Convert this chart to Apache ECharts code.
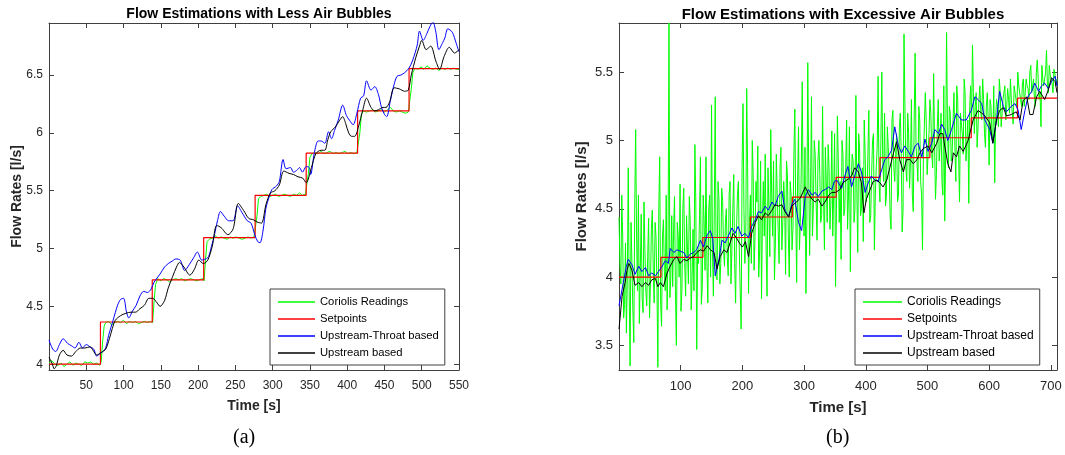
<!DOCTYPE html>
<html>
<head>
<meta charset="utf-8">
<script src="https://cdn.jsdelivr.net/npm/echarts@6/dist/echarts.min.js"></script>
<style>
html,body{margin:0;padding:0;background:#fff;}
#chart{width:1065px;height:455px;}
</style>
</head>
<body>
<div id="chart"></div>
<script>
// ---------- Panel (a): less air bubbles ----------
const leftTitle = 'Flow Estimations with Less Air Bubbles';
const leftTimeTicks = [50,100,150,200,250,300,350,400,450,500,550];
const leftFlowTicks = [4,4.5,5,5.5,6,6.5];

const leftSetTime = [0,69,138.5,207.5,276.5,345,414,483,550];
const leftSetFlow = [4.0,4.365,4.73,5.095,5.46,5.825,6.19,6.555,6.555];

const leftCorTime = [0,4,8,12,16,20,24,28,32,36,40,44,48,52,56,60,64,68,70,72,74,
  76,80,84,88,92,96,100,104,108,112,116,120,124,128,132,136,139,141,143,
  146,150,154,158,162,166,170,174,178,182,186,190,194,198,202,206,208,210,212,
  215,219,223,227,231,235,239,243,247,251,255,259,263,267,271,275,277,279,281,
  284,288,292,296,300,304,308,312,316,320,324,328,332,336,340,344,346,348,350,
  353,357,361,365,369,373,377,381,385,389,393,397,401,405,409,413,415,417,419,
  422,426,430,434,438,442,446,450,454,458,462,466,470,474,478,482,484,486,488,
  491,495,499,503,507,511,515,519,523,527,531,535,539,543,547,550];
const leftCorFlow = [4.01,4.03,4.0,3.99,4.01,3.98,4.0,4.02,3.99,4.01,4.0,3.99,4.02,4.01,4.02,4.0,4.01,3.99,4.02,4.2,4.33,
  4.36,4.37,4.34,4.36,4.37,4.36,4.38,4.35,4.37,4.36,4.37,4.35,4.36,4.37,4.36,4.37,4.36,4.55,4.69,
  4.74,4.72,4.74,4.73,4.71,4.73,4.74,4.73,4.74,4.72,4.73,4.74,4.73,4.72,4.73,4.74,4.72,4.9,5.06,
  5.08,5.09,5.11,5.09,5.10,5.09,5.08,5.10,5.09,5.10,5.09,5.08,5.09,5.10,5.09,5.10,5.09,5.28,5.43,
  5.45,5.46,5.47,5.45,5.46,5.47,5.45,5.46,5.47,5.46,5.45,5.47,5.46,5.48,5.46,5.47,5.46,5.65,5.79,
  5.82,5.83,5.82,5.84,5.82,5.83,5.84,5.82,5.83,5.82,5.83,5.84,5.82,5.83,5.82,5.83,5.82,6.0,6.16,
  6.19,6.18,6.19,6.20,6.18,6.19,6.20,6.18,6.20,6.22,6.19,6.18,6.19,6.18,6.17,6.18,6.19,6.38,6.52,
  6.56,6.55,6.57,6.55,6.58,6.56,6.55,6.56,6.54,6.56,6.55,6.56,6.55,6.56,6.55,6.55];

const leftThroatTime = [0,5,9,14,19,25,30,35,40,45,50,55,60,64,68,72,76,80,86,92,96,100,104,107,112,117,122,127,132,137,
  141,149,155,160,165,170,176,182,188,194,199,205,210,214,218,222,226,230,235,241,247,253,259,266,271,276,280,283,287,
  291,295,299,305,309,314,318,324,328,333,336,340,345,349,351,356,361,365,370,375,379,383,388,394,399,403,408,413,418,
  422,426,432,437,442,446,450,453,458,463,467,472,477,483,488,494,497,502,507,511,515,519,523,528,531,535,541,546,550];
const leftThroatFlow = [4.21,4.13,4.11,4.17,4.22,4.18,4.16,4.14,4.19,4.14,4.17,4.15,4.13,4.07,4.09,4.11,4.14,4.25,4.38,4.51,4.56,4.57,4.45,4.40,4.46,4.51,4.59,4.63,4.62,4.65,
  4.71,4.78,4.84,4.87,4.89,4.91,4.90,4.81,4.86,4.92,4.97,4.90,4.91,4.93,5.02,5.12,5.24,5.32,5.28,5.24,5.24,5.37,5.31,5.24,5.22,5.12,5.06,5.05,5.15,
  5.35,5.44,5.51,5.54,5.58,5.77,5.69,5.70,5.66,5.68,5.70,5.66,5.71,5.70,5.64,5.83,5.93,5.93,5.91,6.01,5.95,6.02,6.11,6.24,6.15,6.11,6.07,6.17,6.30,
  6.32,6.45,6.37,6.40,6.33,6.22,6.16,6.14,6.28,6.42,6.49,6.50,6.52,6.56,6.63,6.76,6.88,6.80,6.86,6.92,6.96,6.87,6.72,6.78,6.82,6.90,6.87,6.78,6.70];

const leftUpTime = [0,4,7,10,14,19,24,30,36,42,48,55,59,64,70,76,81,85,89,96,103,110,116,122,128,134,139,145,149,155,
  160,166,171,175,181,189,195,201,207,213,219,225,231,240,247,254,261,268,274,279,285,291,297,303,309,315,322,328,334,
  340,345,352,358,365,370,374,378,384,390,394,398,402,406,410,415,421,426,432,437,442,448,452,457,463,470,477,482,486,
  492,497,500,506,512,519,524,530,537,544,550];
const leftUpFlow = [4.06,4.01,3.96,3.99,4.08,4.12,4.08,4.07,4.11,4.14,4.14,4.15,4.12,4.08,4.10,4.13,4.22,4.31,4.38,4.42,4.44,4.45,4.45,4.48,4.51,4.57,4.57,4.53,4.50,4.55,
  4.66,4.76,4.84,4.88,4.84,4.77,4.82,4.90,4.87,4.90,5.02,5.20,5.18,5.12,5.17,5.39,5.33,5.26,5.25,5.23,5.22,5.38,5.48,5.50,5.55,5.67,5.65,5.64,5.62,
  5.61,5.57,5.70,5.82,5.85,5.85,5.94,6.01,6.05,6.11,6.14,6.08,6.00,5.97,5.97,6.05,6.20,6.30,6.22,6.19,6.20,6.22,6.22,6.27,6.39,6.38,6.36,6.37,6.50,
  6.65,6.75,6.80,6.72,6.75,6.62,6.55,6.66,6.74,6.69,6.72];

// ---------- Panel (b): excessive air bubbles ----------
const rightTitle = 'Flow Estimations with Excessive Air Bubbles';
const rightTimeTicks = [100,200,300,400,500,600,700];
const rightFlowTicks = [3.5,4,4.5,5,5.5];

const rightSetTime = [0,68,136,213,281,352,423,504,571,646,710];
const rightSetFlow = [4.0,4.145,4.29,4.44,4.585,4.73,4.875,5.02,5.165,5.31,5.31];

const rightCorTime = [0,3,6,9,12,15,18,21,24,27,30,33,36,39,42,45,48,51,54,57,60,63,66,69,72,75,78,81,84,87,90,93,96,99,
  102,105,108,111,114,117,120,123,126,129,132,135,138,141,144,147,150,153,156,159,162,165,168,171,174,177,180,183,186,189,192,195,198,
  201,204,207,210,213,216,219,222,225,228,231,234,237,240,243,246,249,252,255,258,261,264,267,270,273,276,279,282,285,288,291,294,297,
  300,303,306,309,312,315,318,321,324,327,330,333,336,339,342,345,348,351,354,357,360,363,366,369,372,375,378,381,384,387,390,393,396,399,
  402,405,408,411,414,417,420,423,426,429,432,435,438,441,444,447,450,453,456,459,462,465,468,471,474,477,480,483,486,489,492,495,498,
  501,504,507,510,513,516,519,522,525,528,531,534,537,540,543,546,549,552,555,558,561,564,567,570,573,576,579,582,585,588,591,594,597,
  600,603,606,609,612,615,618,621,624,627,630,633,636,639,642,645,648,651,654,657,660,663,666,669,672,675,678,681,684,687,690,693,696,699,
  702,705,708,710];
const rightCorFlow = [4.44,3.95,4.30,3.80,3.59,4.80,3.35,4.10,3.52,5.08,3.90,3.66,4.46,3.74,4.20,3.79,4.43,3.95,4.49,3.81,4.30,3.34,4.88,3.64,4.42,3.90,3.76,5.86,4.00,3.93,4.59,3.50,4.30,4.68,
  3.91,4.65,3.86,4.20,4.59,3.76,4.35,4.97,3.47,4.10,4.88,3.93,4.40,4.88,3.81,4.60,5.26,3.86,5.32,3.98,4.57,4.10,4.56,4.08,4.50,4.01,4.70,4.20,4.75,3.81,4.60,4.20,3.62,
  5.27,4.10,5.38,3.88,4.60,5.00,4.05,4.70,4.96,4.20,3.84,4.70,4.90,3.86,4.50,5.08,4.30,3.98,4.90,4.35,4.80,4.20,4.70,4.02,4.75,4.00,4.60,4.35,5.23,3.96,5.10,4.40,5.43,
  4.30,3.88,5.57,4.16,5.32,4.50,4.90,4.27,5.00,4.40,5.25,4.20,4.70,4.97,4.35,5.07,4.60,3.93,5.18,4.40,4.13,4.90,4.50,5.15,4.60,4.04,4.90,4.40,5.33,4.18,4.95,4.50,4.26,4.90,
  4.60,5.22,4.45,5.00,4.20,4.80,5.47,4.55,5.50,4.70,4.52,5.10,4.75,4.35,5.22,4.70,5.05,4.60,5.20,4.33,5.78,4.80,5.20,4.65,5.30,4.48,5.64,4.85,5.25,4.70,4.20,5.10,5.15,
  4.75,5.30,4.90,5.49,4.57,5.10,4.85,5.20,4.60,4.41,5.79,4.80,5.20,4.90,5.35,4.70,5.30,4.55,5.20,4.90,5.35,5.00,4.54,5.40,5.70,5.05,5.35,5.10,5.40,5.15,5.30,4.95,5.35,
  4.82,5.25,5.00,4.69,5.30,5.10,5.35,5.20,5.30,5.15,5.38,5.20,5.30,5.12,5.35,5.25,5.40,5.30,5.42,5.25,5.45,5.38,5.50,5.35,5.45,5.25,5.59,5.30,5.10,5.45,5.40,5.66,5.35,5.48,
  5.42,5.52,5.40,5.45];
// readings taken half-way (1.5 s after) each of the first 236 times above
const rightCorFlowMid = [4.10,4.60,3.70,4.25,4.00,3.90,4.40,3.75,4.50,4.30,
  4.60,4.05,3.85,4.55,3.90,4.15,3.70,4.35,4.05,4.40,
  3.95,4.50,3.80,4.30,4.05,4.60,4.20,3.85,4.45,4.35,
  3.90,4.40,4.00,3.75,4.50,4.10,4.45,3.95,4.40,4.00,
  3.90,4.55,4.20,4.45,3.80,4.60,4.05,4.10,4.50,4.00,
  4.20,4.50,4.00,4.70,3.95,4.65,4.20,4.40,4.15,4.60,
  3.95,4.50,4.10,4.35,4.70,3.90,4.80,4.50,4.30,4.80,
  4.40,4.10,4.75,4.30,4.55,4.00,4.85,4.40,4.30,4.20,
  4.80,4.15,4.60,4.85,4.25,4.60,4.10,4.95,4.40,4.55,
  4.85,4.30,4.70,4.20,4.90,4.50,4.70,4.20,4.80,4.60,
  4.95,4.40,4.80,4.65,4.30,5.00,4.55,4.85,4.75,4.45,
  4.60,4.95,4.40,4.80,4.55,4.30,5.05,4.50,4.85,4.70,
  5.00,4.45,4.80,4.35,5.10,4.70,4.85,4.50,4.65,5.05,
  4.45,4.80,5.15,4.55,4.90,4.40,4.75,5.05,4.60,4.95,
  4.70,5.00,4.85,5.20,4.60,4.95,4.45,5.15,4.80,4.90,
  4.55,5.10,4.90,4.50,5.25,4.70,5.05,4.85,4.60,5.15,
  4.95,4.70,5.15,4.60,4.90,5.35,4.75,5.05,5.20,4.80,
  5.00,4.75,5.30,4.95,4.70,5.40,4.90,5.10,5.25,4.85,
  5.15,4.95,5.40,4.90,5.20,5.05,5.45,4.85,5.15,5.25,
  5.10,5.35,5.25,4.95,5.30,5.20,5.45,5.05,5.25,5.15,
  5.30,5.05,5.40,5.15,5.25,5.45,5.10,5.30,5.40,5.25,
  5.30,5.45,5.20,5.40,5.30,5.50,5.35,5.25,5.45,5.35,
  5.40,5.30,5.55,5.40,5.30,5.50,5.45,5.35,5.55,5.40,
  5.50,5.40,5.55,5.45,5.35,5.50];

const rightThroatTime = [0,2,7,12,15,18,21,26,32,37,43,48,53,59,64,70,75,80,83,89,94,99,105,110,116,121,126,132,137,143,148,152,156,162,
  167,172,177,183,188,193,199,204,210,215,221,226,231,237,242,248,253,258,264,269,275,280,285,291,296,302,307,313,318,323,329,334,340,345,349,
  353,361,366,371,377,382,388,393,399,404,409,415,420,426,431,436,442,447,453,458,463,469,474,480,485,491,496,501,507,512,518,523,528,533,539,
  547,555,563,571,577,582,588,593,601,606,612,617,623,628,636,642,647,652,658,663,669,674,680,685,690,696,701,707,710];
const rightThroatFlow = [3.79,3.80,3.96,4.08,4.13,4.12,4.09,4.02,4.08,4.04,4.07,4.01,4.03,4.01,4.04,4.08,4.12,4.10,4.21,4.18,4.20,4.19,4.18,4.14,4.17,4.18,4.20,4.27,4.22,4.31,4.34,4.28,4.01,4.13,
  4.27,4.25,4.30,4.36,4.32,4.37,4.30,4.32,4.29,4.37,4.42,4.48,4.47,4.52,4.49,4.55,4.52,4.59,4.63,4.49,4.44,4.53,4.57,4.40,4.34,4.59,4.64,4.60,4.62,4.59,4.63,4.64,4.66,4.64,4.70,
  4.71,4.65,4.74,4.81,4.66,4.74,4.83,4.77,4.62,4.69,4.74,4.71,4.70,4.79,4.86,4.88,4.93,5.10,4.96,4.91,4.96,4.92,4.88,4.96,4.98,4.88,5.01,4.92,4.98,5.08,5.05,5.12,5.08,5.00,5.08,
  5.20,5.15,5.15,5.22,5.32,5.30,5.27,5.15,5.08,4.98,5.15,5.36,5.25,5.21,5.25,5.27,5.22,5.08,5.22,5.32,5.36,5.42,5.36,5.40,5.42,5.38,5.43,5.47,5.40];

const rightUpTime = [0,5,10,13,16,21,26,32,37,43,48,53,59,63,67,72,78,83,89,94,99,105,110,116,121,126,132,137,143,148,154,159,164,170,
  175,180,185,190,195,200,205,210,215,221,226,231,237,242,248,253,259,264,269,275,280,288,294,302,307,313,318,323,329,334,340,345,351,358,363,
  372,377,382,388,393,397,401,407,412,418,423,428,434,439,445,450,455,461,466,472,477,483,488,493,501,507,515,520,525,528,533,538,542,547,552,
  558,566,574,582,588,593,601,606,612,617,623,628,636,644,650,655,661,666,671,677,682,690,696,701,707,710];
const rightUpFlow = [3.62,3.86,3.96,4.05,4.10,4.05,3.94,3.96,3.93,3.96,3.94,3.98,3.99,3.93,3.96,3.93,4.03,4.08,4.13,4.15,4.10,4.13,4.12,4.14,4.15,4.18,4.20,4.19,4.23,4.20,4.18,4.06,4.15,4.20,
  4.18,4.25,4.32,4.29,4.25,4.22,4.26,4.15,4.32,4.40,4.45,4.42,4.47,4.45,4.49,4.53,4.52,4.53,4.48,4.44,4.52,4.55,4.58,4.66,4.61,4.57,4.55,4.57,4.52,4.55,4.60,4.62,4.62,4.64,4.69,
  4.72,4.74,4.80,4.77,4.69,4.47,4.57,4.64,4.70,4.71,4.69,4.66,4.71,4.80,4.91,4.99,4.86,4.77,4.86,4.86,4.83,4.86,4.91,4.94,4.96,4.91,4.98,5.05,5.05,4.96,4.83,4.77,4.91,4.88,4.96,
  4.92,5.00,5.15,5.22,5.20,5.18,5.13,4.98,5.15,5.22,5.24,5.18,5.19,5.21,5.15,5.29,5.32,5.19,5.19,5.32,5.36,5.30,5.37,5.46,5.43,5.35];

const seriesNames = ['Coriolis Readings','Setpoints','Upstream-Throat based','Upstream based'];
const seriesColors = ['#00ff00','#ff0000','#0000ff','#000000'];

// ---------- build ----------
const zip = (t, v) => t.map((x, i) => [x, v[i]]);
const rightCorData = zip(rightCorTime, rightCorFlow)
  .concat(rightCorFlowMid.map((v, i) => [rightCorTime[i] + 1.5, v]))
  .sort((a, b) => a[0] - b[0]);
const AX = '#404040';
const TXT = '#262626';
const FONT = 'Liberation Sans';

function xAxes(gi, max, ticks, fs) {
  return [
    {type:'value', gridIndex:gi, min:0, max:max, position:'bottom',
     name:'Time [s]', nameLocation:'middle', nameGap: fs===12?29:30,
     nameTextStyle:{fontWeight:'bold', fontSize:fs+2, color:TXT, fontFamily:FONT},
     axisLine:{onZero:false, lineStyle:{color:AX, width:1}},
     axisTick:{inside:true, length:5, customValues:ticks, lineStyle:{color:AX}},
     axisLabel:{customValues:ticks, color:TXT, fontSize:fs, margin:10, fontFamily:FONT},
     splitLine:{show:false}},
    {type:'value', gridIndex:gi, min:0, max:max, position:'top',
     axisLine:{onZero:false, lineStyle:{color:AX, width:1}},
     axisTick:{inside:true, length:5, customValues:ticks, lineStyle:{color:AX}},
     axisLabel:{show:false}, splitLine:{show:false}}
  ];
}
function yAxes(gi, min, max, ticks, fs, gap) {
  return [
    {type:'value', gridIndex:gi, min:min, max:max, position:'left',
     name:'Flow Rates [l/s]', nameLocation:'middle', nameGap: gap, nameMoveOverlap:false,
     nameTextStyle:{fontWeight:'bold', fontSize:fs+2, color:TXT, fontFamily:FONT},
     axisLine:{onZero:false, show:true, lineStyle:{color:AX, width:1}},
     axisTick:{show:true, inside:true, length:5, customValues:ticks, lineStyle:{color:AX}},
     axisLabel:{customValues:ticks, color:TXT, fontSize:fs, margin:6, fontFamily:FONT},
     splitLine:{show:false}},
    {type:'value', gridIndex:gi, min:min, max:max, position:'right',
     axisLine:{onZero:false, show:true, lineStyle:{color:AX, width:1}},
     axisTick:{show:true, inside:true, length:5, customValues:ticks, lineStyle:{color:AX}},
     axisLabel:{show:false}, splitLine:{show:false}}
  ];
}
function panelSeries(xi, yi, cor, set, thr, up, smooth) {
  const base = {type:'line', xAxisIndex:xi, yAxisIndex:yi, symbol:'none', showSymbol:false, clip:true, animation:false};
  return [
    Object.assign({}, base, {name:seriesNames[0], data:cor, lineStyle:{color:seriesColors[0], width:1}, itemStyle:{color:seriesColors[0]}}),
    Object.assign({}, base, {name:seriesNames[1], data:set, step:'end', lineStyle:{color:seriesColors[1], width:1.2}, itemStyle:{color:seriesColors[1]}}),
    Object.assign({}, base, {name:seriesNames[2], data:thr, smooth:smooth, lineStyle:{color:seriesColors[2], width:1}, itemStyle:{color:seriesColors[2]}}),
    Object.assign({}, base, {name:seriesNames[3], data:up, smooth:smooth, lineStyle:{color:seriesColors[3], width:1}, itemStyle:{color:seriesColors[3]}})
  ];
}
const lineIcon = 'path://M0,0L40,0L40,1.5L0,1.5Z';
function legend(left, fs, iw) {
  return {orient:'vertical', left:left, top:289,
    data:seriesNames.map(n => ({name:n, icon:lineIcon})),
    itemWidth:iw, itemHeight:14, itemGap:3,
    padding:[6,6,5,8], borderColor:AX, borderWidth:1, backgroundColor:'#fff', borderRadius:0,
    selectedMode:false, textStyle:{fontSize:fs, lineHeight:14, color:'#000', fontFamily:FONT}};
}

const chart = echarts.init(document.getElementById('chart'), null, {renderer:'canvas'});
chart.setOption({
  animation:false,
  backgroundColor:'#fff',
  title:[
    {text:leftTitle, left:254, top:2, textAlign:'center', textStyle:{fontSize:14, fontWeight:'bold', color:'#000', fontFamily:FONT}},
    {text:rightTitle, left:838, top:2, textAlign:'center', textStyle:{fontSize:15, fontWeight:'bold', color:'#000', fontFamily:FONT}}
  ],
  grid:[
    {left:49, top:23, width:410, height:347},
    {left:619, top:23, width:438, height:347}
  ],
  xAxis:[].concat(xAxes(0, 550, leftTimeTicks, 12), xAxes(1, 710, rightTimeTicks, 13)),
  yAxis:[].concat(yAxes(0, 3.95, 6.95, leftFlowTicks, 12, 25), yAxes(1, 3.32, 5.86, rightFlowTicks, 13, 30)),
  legend:[legend(270, 11.25, 37), legend(855, 12, 39)],
  series:[].concat(
    panelSeries(0, 0, zip(leftCorTime, leftCorFlow), zip(leftSetTime, leftSetFlow), zip(leftThroatTime, leftThroatFlow), zip(leftUpTime, leftUpFlow), 0.3),
    panelSeries(2, 2, rightCorData, zip(rightSetTime, rightSetFlow), zip(rightThroatTime, rightThroatFlow), zip(rightUpTime, rightUpFlow), false)
  ),
  graphic:[
    {type:'text', left:233, top:428, style:{text:'(a)', font:'20px "Liberation Serif"', fill:'#000'}},
    {type:'text', left:826, top:428, style:{text:'(b)', font:'20px "Liberation Serif"', fill:'#000'}}
  ]
});
</script>
</body>
</html>
